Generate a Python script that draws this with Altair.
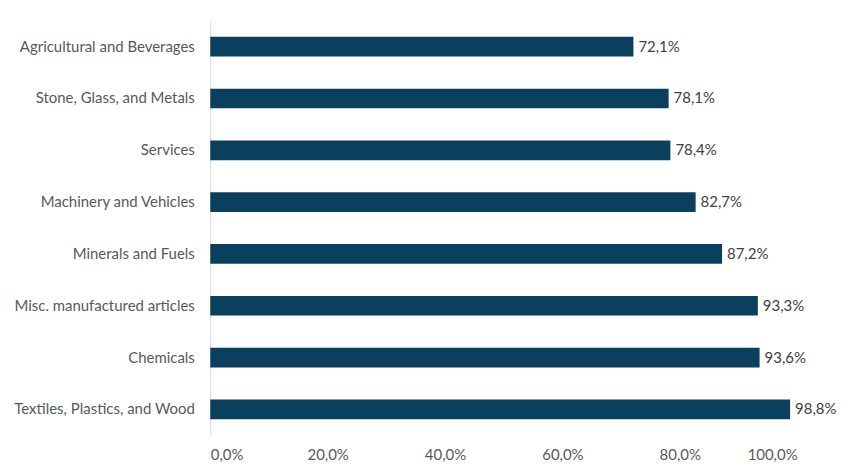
import altair as alt
import pandas as pd

categories = [
    "Agricultural and Beverages",
    "Stone, Glass, and Metals",
    "Services",
    "Machinery and Vehicles",
    "Minerals and Fuels",
    "Misc. manufactured articles",
    "Chemicals",
    "Textiles, Plastics, and Wood",
]
values = [0.721, 0.781, 0.784, 0.827, 0.872, 0.933, 0.936, 0.988]

df = pd.DataFrame({"category": categories, "value": values})
df["label"] = [f"{v * 100:.1f}%".replace(".", ",") for v in values]

font = "Lato"
grey = "#595959"

base = alt.Chart(df).encode(
    y=alt.Y("category:N", sort=categories, title=None,
            scale=alt.Scale(paddingInner=0.62, paddingOuter=0.31),
            axis=alt.Axis(ticks=False, labelPadding=16, labelFontSize=15,
                          labelColor=grey, labelFont=font, domainColor="#d9d9d9",
                          labelLimit=300)),
    x=alt.X("value:Q", title=None,
            scale=alt.Scale(domain=[0, 1]),
            axis=alt.Axis(values=[0, 0.2, 0.4, 0.6, 0.8, 1.0], grid=False, domain=False,
                          ticks=False, labelPadding=12, labelFontSize=15,
                          labelColor=grey, labelFont=font,
                          labelExpr="replace(format(datum.value, '.1%'), '.', ',')")),
)

bars = base.mark_bar(color="#0b3f5e")
text = base.mark_text(align="left", dx=5, fontSize=15, color="#404040", font=font).encode(
    text="label:N")

chart = (bars + text).properties(
    width=589, height=416,
    padding={"top": 12, "left": 5, "right": 5, "bottom": 5},
).configure_view(stroke=None)

chart.save("out.html", embed_options={"renderer": "svg", "actions": False})
